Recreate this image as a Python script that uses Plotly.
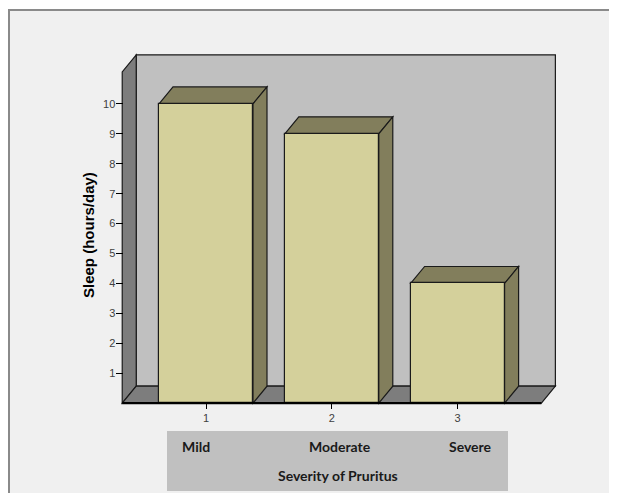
import plotly.graph_objects as go

# ---- data ----
categories = ["Mild", "Moderate", "Severe"]
category_codes = [1, 2, 3]
sleep_hours = [10, 9, 4]
y_ticks = [1, 2, 3, 4, 5, 6, 7, 8, 9, 10]
x_title = "Severity of Pruritus"
y_title = "Sleep (hours/day)"

# ---- layout geometry (reference pixels; page body has an 8px margin) ----
OFF = 8
W, H = 617 - OFF, 493 - OFF
L_REF, R_REF, T_REF, B_REF = 116, 560, 50, 408   # plot area in reference px
L, T = L_REF - OFF, T_REF - OFF
R, B = W - (R_REF - OFF), H - (B_REF - OFF)
PW, PH = W - L - R, H - T - B
X_UNIT = 125.8   # px per category
Y_UNIT = 29.93   # px per hour
X1_PX = 206.0    # reference px of category 1
Y0_PX = 403.2    # reference px of value 0

def xd(px):
    return 1 + (px - X1_PX) / X_UNIT

def yd(py):
    return (Y0_PX - py) / Y_UNIT

def xp(px):
    return (px - L_REF) / PW

def yp(py):
    return (B_REF - py) / PH

DX = 14 / X_UNIT
DY = 17 / Y_UNIT
BAR_W = 0.747
X0, X1 = 1 - 0.666, 3 + 0.666
YMAX = 11.07

FRONT = "#d4d09b"
DARK = "#827e5c"
WALL = "#c0c0c0"
FLOOR = "#7d7d7d"
EDGE = "#1a1a1a"

def poly(pts):
    return "M " + " L ".join(f"{x},{y}" for x, y in pts) + " Z"

shapes = []
# outer frame
shapes.append(dict(type="rect", xref="paper", yref="paper", layer="below",
                   x0=xp(9), x1=xp(640), y0=yp(10), y1=yp(520),
                   fillcolor="#f0f0f0", line=dict(color="#8a8a8a", width=2)))
# back wall
shapes.append(dict(type="path", xref="x", yref="y", layer="below",
                   path=poly([(X0 + DX, DY), (X1 + DX, DY), (X1 + DX, YMAX + DY), (X0 + DX, YMAX + DY)]),
                   fillcolor=WALL, line=dict(color=EDGE, width=1.2)))
# left side wall
shapes.append(dict(type="path", xref="x", yref="y", layer="below",
                   path=poly([(X0, 0), (X0 + DX, DY), (X0 + DX, YMAX + DY), (X0, YMAX)]),
                   fillcolor=FLOOR, line=dict(color=EDGE, width=1.2)))
# floor
shapes.append(dict(type="path", xref="x", yref="y", layer="below",
                   path=poly([(X0, 0), (X1, 0), (X1 + DX, DY), (X0 + DX, DY)]),
                   fillcolor=FLOOR, line=dict(color=EDGE, width=1.2)))
# bar top and side faces
for c, v in zip(category_codes, sleep_hours):
    xl, xr = c - BAR_W / 2, c + BAR_W / 2
    shapes.append(dict(type="path", xref="x", yref="y", layer="below",
                       path=poly([(xl, v), (xr, v), (xr + DX, v + DY), (xl + DX, v + DY)]),
                       fillcolor=DARK, line=dict(color=EDGE, width=1.2)))
    shapes.append(dict(type="path", xref="x", yref="y", layer="below",
                       path=poly([(xr, 0), (xr + DX, DY), (xr + DX, v + DY), (xr, v)]),
                       fillcolor=DARK, line=dict(color=EDGE, width=1.2)))
# front baseline
shapes.append(dict(type="line", xref="x", yref="y", layer="above",
                   x0=X0, x1=X1, y0=0, y1=0, line=dict(color="#000000", width=2.2)))
# category label box
shapes.append(dict(type="rect", xref="paper", yref="paper", layer="below",
                   x0=xp(167), x1=xp(508), y0=yp(431), y1=yp(491),
                   fillcolor="#c0c0c0", line=dict(width=0)))

fig = go.Figure()
fig.add_trace(go.Bar(x=category_codes, y=sleep_hours, width=BAR_W,
                     marker=dict(color=FRONT, line=dict(color=EDGE, width=1.2)),
                     hoverinfo="skip", showlegend=False))

lab_font = dict(family="Lato, Arial, sans-serif", size=14, color="#1a1a1a", weight="bold")
annotations = [
    dict(text=f"<b>{y_title}</b>", xref="paper", yref="paper", x=xp(89), y=yp(235),
         textangle=-90, showarrow=False, xanchor="center", yanchor="middle",
         font=dict(family="Arial, Liberation Sans, sans-serif", size=15, color="#000000")),
    dict(text=categories[0], xref="paper", yref="paper", x=xp(180), y=yp(446),
         xanchor="left", yanchor="middle", showarrow=False, font=lab_font),
    dict(text=categories[1], xref="paper", yref="paper", x=xp(340), y=yp(446),
         xanchor="center", yanchor="middle", showarrow=False, font=lab_font),
    dict(text=categories[2], xref="paper", yref="paper", x=xp(494), y=yp(446),
         xanchor="right", yanchor="middle", showarrow=False, font=lab_font),
    dict(text=x_title, xref="paper", yref="paper", x=xp(337.5), y=yp(476),
         xanchor="center", yanchor="middle", showarrow=False, font=lab_font),
]

tick_font = dict(family="Arial, Liberation Sans, sans-serif", size=11, color="#404040")
fig.update_layout(
    width=W, height=H,
    margin=dict(l=L, r=R, t=T, b=B, autoexpand=False),
    paper_bgcolor="#ffffff",
    plot_bgcolor="rgba(0,0,0,0)",
    shapes=shapes,
    annotations=annotations,
    bargap=0,
    xaxis=dict(range=[xd(L_REF), xd(R_REF)], tickmode="array", tickvals=category_codes,
               ticktext=[str(c) for c in category_codes],
               anchor="free", position=yp(Y0_PX),
               showgrid=False, zeroline=False, showline=False,
               ticks="outside", ticklen=5, tickwidth=1, tickcolor="#000000",
               tickfont=tick_font, fixedrange=True),
    yaxis=dict(range=[yd(B_REF), yd(T_REF)], tickmode="array", tickvals=y_ticks,
               anchor="free", position=xp(122.5),
               showgrid=False, zeroline=False, showline=False,
               ticks="outside", ticklen=7, tickwidth=1, tickcolor="#000000",
               ticklabelstandoff=-2,
               tickfont=tick_font, fixedrange=True),
)

fig.write_html("out.html")
